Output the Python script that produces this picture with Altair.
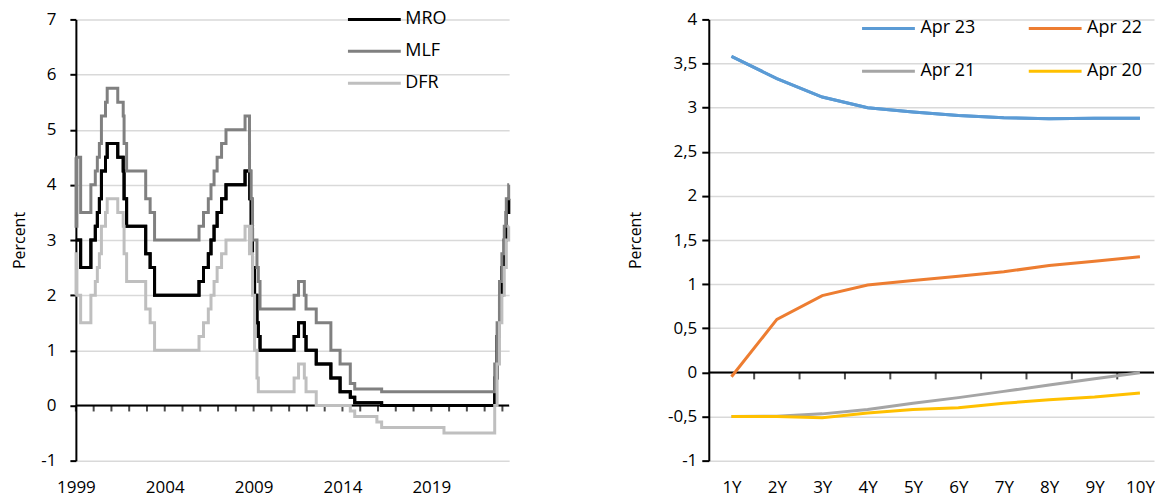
import altair as alt
import pandas as pd

FONT = "Open Sans"

# ---------------- Left panel: ECB key interest rates ----------------
change_dates = [
    "1999-01-01", "1999-01-04", "1999-01-22", "1999-04-09", "1999-11-05",
    "2000-02-04", "2000-03-17", "2000-04-28", "2000-06-09", "2000-09-01",
    "2000-10-06", "2001-05-11", "2001-08-31", "2001-09-18", "2001-11-09",
    "2002-12-06", "2003-03-07", "2003-06-06", "2005-12-06", "2006-03-08",
    "2006-06-15", "2006-08-09", "2006-10-11", "2006-12-13", "2007-03-14",
    "2007-06-13", "2008-07-09", "2008-10-08", "2008-10-09", "2008-10-15",
    "2008-11-12", "2008-12-10", "2009-01-21", "2009-03-11", "2009-04-08",
    "2009-05-13", "2011-04-13", "2011-07-13", "2011-11-09", "2011-12-14",
    "2012-07-11", "2013-05-08", "2013-11-13", "2014-06-11", "2014-09-10",
    "2015-12-09", "2016-03-16", "2019-09-18", "2022-07-27", "2022-09-14",
    "2022-11-02", "2022-12-21", "2023-02-08", "2023-03-22", "2023-05-10",
    "2023-05-19",
]
mro = [
    3.00, 3.00, 3.00, 2.50, 3.00,
    3.25, 3.50, 3.75, 4.25, 4.50,
    4.75, 4.50, 4.25, 3.75, 3.25,
    2.75, 2.50, 2.00, 2.25, 2.50,
    2.75, 3.00, 3.25, 3.50, 3.75,
    4.00, 4.25, 4.25, 4.25, 3.75,
    3.25, 2.50, 2.00, 1.50, 1.25,
    1.00, 1.25, 1.50, 1.25, 1.00,
    0.75, 0.50, 0.25, 0.15, 0.05,
    0.05, 0.00, 0.00, 0.50, 1.25,
    2.00, 2.50, 3.00, 3.50, 3.75,
    3.75,
]
mlf = [
    4.50, 3.25, 4.50, 3.50, 4.00,
    4.25, 4.50, 4.75, 5.25, 5.50,
    5.75, 5.50, 5.25, 4.75, 4.25,
    3.75, 3.50, 3.00, 3.25, 3.50,
    3.75, 4.00, 4.25, 4.50, 4.75,
    5.00, 5.25, 4.75, 4.25, 4.25,
    3.75, 3.00, 3.00, 2.50, 2.25,
    1.75, 2.00, 2.25, 2.00, 1.75,
    1.50, 1.00, 0.75, 0.40, 0.30,
    0.30, 0.25, 0.25, 0.75, 1.50,
    2.25, 2.75, 3.25, 3.75, 4.00,
    4.00,
]
dfr = [
    2.00, 2.75, 2.00, 1.50, 2.00,
    2.25, 2.50, 2.75, 3.25, 3.50,
    3.75, 3.50, 3.25, 2.75, 2.25,
    1.75, 1.50, 1.00, 1.25, 1.50,
    1.75, 2.00, 2.25, 2.50, 2.75,
    3.00, 3.25, 2.75, 3.25, 3.25,
    2.75, 2.00, 1.00, 0.50, 0.25,
    0.25, 0.50, 0.75, 0.50, 0.25,
    0.00, 0.00, 0.00, -0.10, -0.20,
    -0.30, -0.40, -0.50, 0.00, 0.75,
    1.50, 2.00, 2.50, 3.00, 3.25,
    3.25,
]
rate_series = ["MRO", "MLF", "DFR"]
rate_colors = ["#000000", "#808080", "#bfbfbf"]
year_labels = [1999, 2004, 2009, 2014, 2019]
year_ticks = list(range(1999, 2024))

# ---------------- Right panel: yield curves ----------------
maturities = ["1Y", "2Y", "3Y", "4Y", "5Y", "6Y", "7Y", "8Y", "9Y", "10Y"]
apr23 = [3.58, 3.33, 3.12, 3.00, 2.95, 2.91, 2.885, 2.875, 2.88, 2.88]
apr22 = [-0.05, 0.60, 0.87, 0.99, 1.04, 1.09, 1.14, 1.21, 1.26, 1.31]
apr21 = [-0.50, -0.497, -0.47, -0.42, -0.35, -0.286, -0.215, -0.143, -0.072, -0.005]
apr20 = [-0.50, -0.50, -0.515, -0.46, -0.42, -0.40, -0.35, -0.31, -0.28, -0.234]
curve_series = ["Apr 23", "Apr 22", "Apr 21", "Apr 20"]
curve_colors = ["#5b9bd5", "#ed7d31", "#a5a5a5", "#ffc000"]


def decimal_year(s):
    d = pd.Timestamp(s)
    start = pd.Timestamp(year=d.year, month=1, day=1)
    end = pd.Timestamp(year=d.year + 1, month=1, day=1)
    return d.year + (d - start) / (end - start)


t_vals = [decimal_year(s) for s in change_dates]
rows = []
for name, vals in zip(rate_series, [mro, mlf, dfr]):
    for t, v in zip(t_vals, vals):
        rows.append({"t": t, "rate": v, "series": name})
rates_df = pd.DataFrame(rows)
t_domain = [t_vals[0], t_vals[-1]]

crows = []
for name, vals in zip(curve_series, [apr23, apr22, apr21, apr20]):
    for i, (m, v) in enumerate(zip(maturities, vals)):
        crows.append({"pos": i + 1, "mat": m, "yield": v, "curve": name})
curves_df = pd.DataFrame(crows)

label_kw = dict(labelFont=FONT, labelFontSize=17, labelColor="black")
title_kw = dict(titleFont=FONT, titleFontSize=16, titleFontWeight="normal", titleColor="black")
LINE_SYMBOL = "M-5,0L5,0"  # wide horizontal stroke, small layout footprint

# ---------- left chart ----------
xl = alt.X(
    "t:Q",
    scale=alt.Scale(domain=t_domain, nice=False, zero=False),
    axis=alt.Axis(values=year_labels, format="d", grid=False, domain=False, ticks=False,
                  labelPadding=19, labelFlush=False, title=None, **label_kw),
)
yl = alt.Y(
    "rate:Q",
    scale=alt.Scale(domain=[-1, 7], nice=False),
    axis=alt.Axis(values=list(range(-1, 8)), title="Percent", titlePadding=13,
                  labelExpr="'' + datum.value", gridColor="#d9d9d9", gridWidth=1.5,
                  domainColor="black", domainWidth=2, tickColor="black", tickWidth=2,
                  tickSize=6, labelPadding=14, **label_kw, **title_kw),
)
legend_l = alt.Legend(title=None, orient="none", legendX=290, legendY=-9, symbolType=LINE_SYMBOL,
                      symbolSize=112, symbolStrokeWidth=3, labelFont=FONT, labelFontSize=18,
                      labelColor="black", labelOffset=22, rowPadding=14, padding=0)
color_l = alt.Color("series:N", scale=alt.Scale(domain=rate_series, range=rate_colors), legend=legend_l)

zero_l = alt.Chart(pd.DataFrame({"rate": [0]})).mark_rule(color="black", strokeWidth=2).encode(y="rate:Q")
ticks_l = alt.Chart(pd.DataFrame({"t": year_ticks})).mark_tick(
    orient="vertical", size=6, thickness=2, color="black", yOffset=3
).encode(x="t:Q", y=alt.datum(0))
line_layers_l = [
    alt.Chart(rates_df).transform_filter(alt.datum.series == s)
    .mark_line(interpolate="step-after", strokeWidth=3)
    .encode(x=xl, y=yl, color=color_l)
    for s in rate_series
]
left = alt.layer(line_layers_l[0], zero_l, ticks_l, *line_layers_l).properties(width=434, height=442)

# ---------- right chart ----------
xr = alt.X(
    "pos:Q",
    scale=alt.Scale(domain=[0.5, 10.31], nice=False, zero=False),
    axis=alt.Axis(values=list(range(1, 11)), labelExpr="datum.value + 'Y'", grid=False,
                  domain=False, ticks=False, labelPadding=19, labelFlush=False, title=None, **label_kw),
)
yr = alt.Y(
    "yield:Q",
    scale=alt.Scale(domain=[-1, 4], nice=False),
    axis=alt.Axis(values=[-1, -0.5, 0, 0.5, 1, 1.5, 2, 2.5, 3, 3.5, 4], title="Percent",
                  titlePadding=24, labelExpr="replace('' + datum.value, '.', ',')",
                  gridColor="#d9d9d9", gridWidth=1.5, domainColor="black", domainWidth=2,
                  tickColor="black", tickWidth=2, tickSize=7, labelPadding=5, **label_kw, **title_kw),
)
legend_r = alt.Legend(title=None, orient="none", legendX=171, legendY=0, columns=2, direction="horizontal",
                      columnPadding=46, symbolType=LINE_SYMBOL, symbolSize=112, symbolStrokeWidth=3,
                      labelFont=FONT, labelFontSize=18, labelColor="black", labelOffset=23,
                      rowPadding=25, padding=0)
color_r = alt.Color("curve:N", scale=alt.Scale(domain=curve_series, range=curve_colors), legend=legend_r)

zero_r = alt.Chart(pd.DataFrame({"yield": [0]})).mark_rule(color="black", strokeWidth=2).encode(y="yield:Q")
ticks_r = alt.Chart(pd.DataFrame({"pos": [i + 0.5 for i in range(1, 10)]})).mark_tick(
    orient="vertical", size=7, thickness=2, color="black", yOffset=3.5
).encode(x="pos:Q", y=alt.datum(0))
line_layers_r = [
    alt.Chart(curves_df).transform_filter(alt.datum.curve == s)
    .mark_line(strokeWidth=3)
    .encode(x=xr, y=yr, color=color_r)
    for s in curve_series
]
right = alt.layer(line_layers_r[0], zero_r, ticks_r, *line_layers_r).properties(width=446, height=442)

chart = (
    alt.hconcat(left, right, spacing=112)
    .resolve_scale(color="independent")
    .resolve_legend(color="independent")
    .properties(padding={"left": 3, "top": 2, "right": 0, "bottom": 0})
    .configure_view(stroke=None)
)

chart.save("out.html", embed_options={"renderer": "svg", "actions": False})
